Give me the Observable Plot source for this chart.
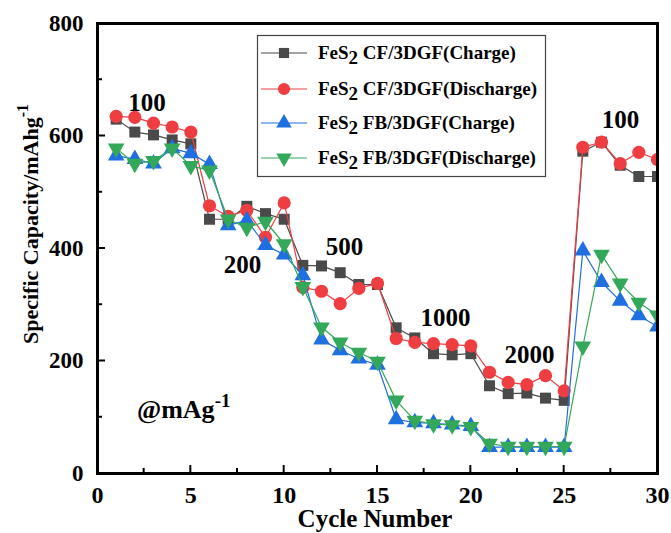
<!DOCTYPE html>
<html><head><meta charset="utf-8">
<script src="https://cdn.jsdelivr.net/npm/d3@7"></script>
<script src="https://cdn.jsdelivr.net/npm/@observablehq/plot@0.6"></script>
<style>body{margin:0;background:#fff} #chart{width:671px;height:533px}</style>
</head><body><div id="chart"></div>
<script>
const cycles = d3.range(1, 31);
const cfCharge    = [630,607,602,593,586,452,452,475,462,452,370,369,357,336,336,259,241,213,211,213,156,142,143,134,130,573,589,548,528,528];
const cfDischarge = [635,633,623,616,607,476,457,468,420,481,331,324,302,329,338,240,233,231,229,227,180,162,158,174,147,580,589,551,571,558];
const fbCharge    = [565,559,551,578,569,550,441,450,406,389,352,238,219,204,193,96,91,89,87,84,47,47,47,47,47,396,340,307,281,261];
const fbDischarge = [578,551,556,578,547,539,452,437,448,408,332,260,233,215,199,130,94,88,86,83,53,48,48,48,48,226,389,338,304,281];
const seriesNames = ["FeS2 CF/3DGF(Charge)","FeS2 CF/3DGF(Discharge)","FeS2 FB/3DGF(Charge)","FeS2 FB/3DGF(Discharge)"];
const xTicks = [0,5,10,15,20,25,30];
const xMinor = [2.5,7.5,12.5,17.5,22.5,27.5];
const yTicks = [0,200,400,600,800];
const yMinor = [100,300,500,700];
const rateLabels = [
  {x: 2.65, y: 658, t: "100"},
  {x: 7.77, y: 370, t: "200"},
  {x: 13.23, y: 402, t: "500"},
  {x: 18.64, y: 276, t: "1000"},
  {x: 23.14, y: 210, t: "2000"},
  {x: 28.02, y: 629, t: "100"}
];

const styles = [
  {color: "#4a4a4a", symbol: "square", r: 6.2, rotate: 0},
  {color: "#ef3e42", symbol: "circle", r: 6.6, rotate: 0},
  {color: "#1f6fe0", symbol: "triangle", r: 6.2, rotate: 0},
  {color: "#34a85a", symbol: "triangle", r: 6.2, rotate: 180}
];
const allSeries = [cfCharge, cfDischarge, fbCharge, fbDischarge];
const tables = allSeries.map((vals, i) => cycles.map((c, j) => ({x: c, y: vals[j], s: seriesNames[i]})));

const marks = [];
tables.forEach((tab, i) => {
  const st = styles[i];
  marks.push(Plot.line(tab, {x: "x", y: "y", stroke: st.color, strokeWidth: 1.2, clip: true}));
  marks.push(Plot.dot(tab, {x: "x", y: "y", symbol: () => st.symbol, fill: st.color, stroke: "none", r: st.r, rotate: st.rotate, clip: true}));
});

const font = "'Liberation Serif', 'Times New Roman', serif";
const plot = Plot.plot({
  width: 671, height: 533,
  marginLeft: 97, marginRight: 14, marginTop: 23, marginBottom: 60,
  style: {fontFamily: font, background: "#fff"},
  x: {domain: [0, 30]},
  y: {domain: [0, 800]},
  symbol: {domain: ["square","circle","triangle"], range: ["square","circle","triangle"]},
  marks: [
    Plot.axisX({ticks: xTicks, tickSize: 0, tickPadding: 12, fontSize: 24, fontWeight: "bold", label: null, tickFormat: d => String(d)}),
    Plot.axisY({ticks: yTicks, tickSize: 0, tickPadding: 14, fontSize: 23, fontWeight: "bold", label: null, tickFormat: d => String(d)}),
    ...marks,
    Plot.text(rateLabels, {x: "x", y: "y", text: "t", fontSize: 25, fontWeight: "bold", fill: "#000"}),
    Plot.frame({stroke: "#000", strokeWidth: 3})
  ]
});
document.getElementById("chart").appendChild(plot);

const svg = d3.select(plot);
const xs = plot.scale("x"), ys = plot.scale("y");

// inward ticks
const tg = svg.append("g").attr("stroke", "#000").attr("stroke-width", 2);
const y0 = ys.apply(0), x0 = xs.apply(0);
xTicks.forEach(v => tg.append("line").attr("x1", xs.apply(v)).attr("x2", xs.apply(v)).attr("y1", y0).attr("y2", y0 - 8));
xMinor.forEach(v => tg.append("line").attr("x1", xs.apply(v)).attr("x2", xs.apply(v)).attr("y1", y0).attr("y2", y0 - 5));
yTicks.forEach(v => tg.append("line").attr("x1", x0).attr("x2", x0 + 8).attr("y1", ys.apply(v)).attr("y2", ys.apply(v)));
yMinor.forEach(v => tg.append("line").attr("x1", x0).attr("x2", x0 + 5).attr("y1", ys.apply(v)).attr("y2", ys.apply(v)));

// axis titles
svg.append("text")
  .attr("x", 375).attr("y", 527).attr("text-anchor", "middle")
  .attr("font-family", font).attr("font-size", 25).attr("font-weight", "bold")
  .text("Cycle Number");
const yl = svg.append("text")
  .attr("transform", "translate(38,224) rotate(-90)").attr("text-anchor", "middle")
  .attr("font-family", font).attr("font-size", 22).attr("font-weight", "bold");
yl.append("tspan").text("Specific Capacity/mAhg");
yl.append("tspan").attr("dy", -10).attr("font-size", 16).text("-1");

// @mAg-1 annotation
const an = svg.append("text")
  .attr("x", 137).attr("y", 418).attr("text-anchor", "start")
  .attr("font-family", font).attr("font-size", 26).attr("font-weight", "bold");
an.append("tspan").text("@mAg");
an.append("tspan").attr("dy", -11).attr("font-size", 19).text("-1");

// legend
const lg = svg.append("g").attr("font-family", font).attr("text-anchor", "start");
lg.append("rect").attr("x", 257.5).attr("y", 35.5).attr("width", 288).attr("height", 141)
  .attr("fill", "#fff").attr("stroke", "#444").attr("stroke-width", 1.2);
const rowY = [53, 89, 123, 158];
const legendParts = [["FeS", "2", " CF/3DGF(Charge)"],["FeS", "2", " CF/3DGF(Discharge)"],["FeS", "2", " FB/3DGF(Charge)"],["FeS", "2", " FB/3DGF(Discharge)"]];
const symGen = {square: d3.symbolSquare, circle: d3.symbolCircle, triangle: d3.symbolTriangle};
styles.forEach((st, i) => {
  const y = rowY[i];
  lg.append("line").attr("x1", 261).attr("x2", 307).attr("y1", y).attr("y2", y)
    .attr("stroke", st.color).attr("stroke-width", 1.2);
  lg.append("path").attr("d", d3.symbol(symGen[st.symbol], Math.PI * st.r * st.r * 0.85)())
    .attr("transform", `translate(284,${y}) rotate(${st.rotate})`).attr("fill", st.color);
  const t = lg.append("text").attr("x", 318).attr("y", y + 6).attr("text-anchor", "start")
    .attr("font-size", 19).attr("font-weight", "bold");
  t.append("tspan").text(legendParts[i][0]);
  t.append("tspan").attr("dy", 5).attr("font-size", 19).text(legendParts[i][1]);
  t.append("tspan").attr("dy", -5).text(legendParts[i][2]);
});
</script>
</body></html>
